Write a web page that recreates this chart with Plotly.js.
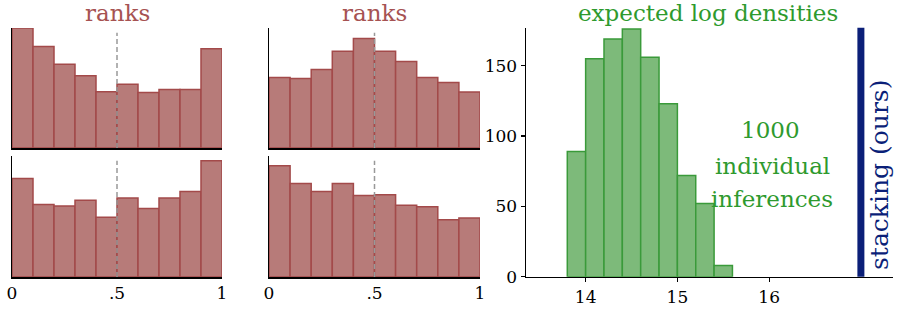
<!DOCTYPE html>
<html>
<head>
<meta charset="utf-8">
<script src="https://cdn.plot.ly/plotly-3.0.1.min.js"></script>
<style>
html,body{margin:0;padding:0;background:#fff;}
#chart{width:900px;height:309px;}
</style>
</head>
<body>
<div id="chart"></div>
<script>
// ---- data ----
const rankBinCenters = [0.05, 0.15, 0.25, 0.35, 0.45, 0.55, 0.65, 0.75, 0.85, 0.95];
const ranksTopLeft    = [156, 132, 109, 94, 73, 83, 72, 76, 76, 129];
const ranksBottomLeft = [122, 90, 88, 95, 74, 98, 85, 98, 106, 144];
const ranksTopMid     = [88, 87, 98, 121, 137, 121, 108, 88, 82, 70];
const ranksBottomMid  = [138, 116, 106, 116, 101, 102, 89, 87, 71, 73];
const rankTickVals = [0, 0.5, 1];
const rankTickText = ['0', '.5', '1'];
const rankMidline = 0.5;

const eldBinCenters = [13.9, 14.1, 14.3, 14.5, 14.7, 14.9, 15.1, 15.3, 15.5];
const eldCounts     = [89, 155, 169, 176, 156, 123, 72, 52, 8];
const eldTickValsX  = [14, 15, 16];
const eldTickValsY  = [0, 50, 100, 150];
const stackingValue = 17.0;

// ---- styles ----
const FONT = 'DejaVu Serif';
const redFill = '#b77b79', redEdge = '#a34a4a', redText = '#a65252';
const greenFill = '#7dba7a', greenEdge = '#3a9a3a', greenText = '#2e9a2e';
const navy = '#0b1f78';
const TICK = 17;

function px2x(p){ return p/900; }
function px2y(p){ return 1 - p/309; }

const topDom = [px2y(148), px2y(28)];
const botDom = [px2y(277), px2y(156)];
const leftDom = [px2x(12), px2x(222)];
const midDom = [px2x(269), px2x(480)];
const rightDom = [px2x(526), px2x(893)];

function rankBar(vals, xa, ya){
  return {type:'bar', x: rankBinCenters, y: vals, width: 0.1, xaxis: xa, yaxis: ya,
    marker:{color: redFill, line:{color: redEdge, width: 1.5}}, hoverinfo:'skip', showlegend:false};
}

const data = [
  rankBar(ranksTopLeft, 'x', 'y'),
  rankBar(ranksBottomLeft, 'x2', 'y2'),
  rankBar(ranksTopMid, 'x3', 'y3'),
  rankBar(ranksBottomMid, 'x4', 'y4'),
  {type:'bar', x: eldBinCenters, y: eldCounts, width: 0.2, xaxis:'x5', yaxis:'y5',
    marker:{color: greenFill, line:{color: greenEdge, width: 1.5}}, hoverinfo:'skip', showlegend:false}
];

function rankX(dom, anchor, showLabels){
  return {domain: dom, anchor: anchor, range:[0,1], showline:true, linecolor:'#000', linewidth:1.5,
    showgrid:false, zeroline:false, ticks:'', tickvals: rankTickVals, ticktext: rankTickText,
    showticklabels: showLabels, tickfont:{family:FONT, size:TICK, color:'#000'}, fixedrange:true};
}
function rankY(dom, anchor, maxv){
  return {domain: dom, anchor: anchor, range:[0,maxv], showline:true, linecolor:'#000', linewidth:1.5,
    showgrid:false, zeroline:false, ticks:'', showticklabels:false, fixedrange:true};
}

const shapes = [];
[['x','y'],['x2','y2'],['x3','y3'],['x4','y4']].forEach(([xa,ya])=>{
  shapes.push({type:'line', xref:xa, yref: ya+' domain', x0: rankMidline, x1: rankMidline, y0:0, y1:0.96,
    line:{color:'#999999', width:1.5, dash:'5px,3px'}, layer:'above'});
});
shapes.push({type:'line', xref:'x5', yref:'y5 domain', x0: stackingValue, x1: stackingValue, y0:0, y1:1,
  line:{color: navy, width:7}, layer:'above'});

function ann(text, xpx, ypx, size, color, extra){
  return Object.assign({text:text, xref:'paper', yref:'paper', x:px2x(xpx), y:px2y(ypx),
    xanchor:'center', yanchor:'middle', showarrow:false, font:{family:FONT, size:size, color:color}}, extra||{});
}

const annotations = [
  ann('ranks', 117, 13, 23, redText),
  ann('ranks', 374, 13, 23, redText),
  ann('expected log densities', 708, 13, 23, greenText),
  ann('1000', 770, 130, 23, greenText),
  ann('individual', 772, 166, 23, greenText),
  ann('inferences', 772, 199, 23, greenText),
  ann('stacking (ours)', 879, 175, 25, navy, {textangle:-90})
];

const layout = {
  width:900, height:309, margin:{l:0,r:0,t:0,b:0}, paper_bgcolor:'#fff', plot_bgcolor:'#fff',
  showlegend:false, bargap:0,
  font:{family:FONT},
  xaxis: rankX(leftDom, 'y', false),
  yaxis: rankY(topDom, 'x', 156),
  xaxis2: rankX(leftDom, 'y2', true),
  yaxis2: rankY(botDom, 'x2', 150),
  xaxis3: rankX(midDom, 'y3', false),
  yaxis3: rankY(topDom, 'x3', 150),
  xaxis4: rankX(midDom, 'y4', true),
  yaxis4: rankY(botDom, 'x4', 150),
  xaxis5: {domain: rightDom, anchor:'y5', range:[13.35,17.35], showline:true, linecolor:'#000', linewidth:1.5,
    showgrid:false, zeroline:false, ticks:'outside', ticklen:4, tickwidth:1.2, tickcolor:'#000',
    tickvals: eldTickValsX, tickfont:{family:FONT, size:TICK, color:'#000'}, fixedrange:true},
  yaxis5: {domain:[px2y(276.7), px2y(27.7)], anchor:'x5', range:[0,177], showline:true, linecolor:'#000', linewidth:1.5,
    showgrid:false, zeroline:false, ticks:'outside', ticklen:4, tickwidth:1.2, tickcolor:'#000',
    tickvals: eldTickValsY, tickfont:{family:FONT, size:TICK, color:'#000'}, fixedrange:true},
  shapes: shapes,
  annotations: annotations
};

Plotly.newPlot('chart', data, layout, {staticPlot:true, displayModeBar:false});
</script>
</body>
</html>
